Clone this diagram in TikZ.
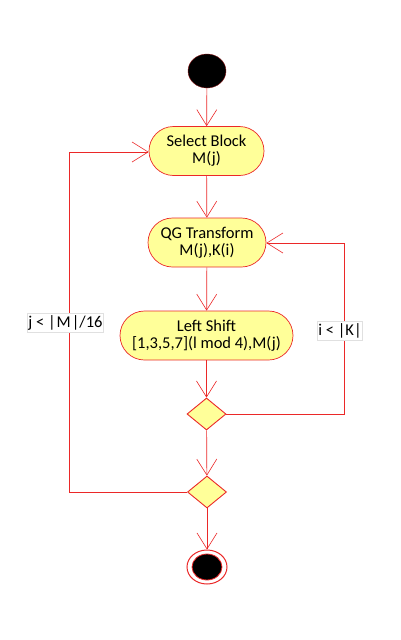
\documentclass[tikz,border=0pt]{standalone}
\usepackage{fontspec}
\setmainfont{Carlito}
\usetikzlibrary{shapes.geometric,arrows.meta}
\definecolor{lred}{RGB}{235,40,40}
\definecolor{lyel}{RGB}{255,255,153}
\tikzset{
  act/.style={draw=lred, fill=lyel, rounded corners=24.5pt, minimum height=49pt, inner sep=0pt, align=center, font=\fontsize{16.5}{17}\selectfont, line width=0.7pt},
  dec/.style={draw=lred, fill=lyel, shape=diamond, aspect=1.22, minimum width=39pt, minimum height=32pt, inner sep=0pt, line width=0.9pt},
  flow/.style={draw=lred, line width=0.7pt, -{Straight Barb[length=16pt, width=20pt, line width=0.6pt]}},
  guard/.style={fill=white, draw=black!12, line width=0.5pt, font=\fontsize{16.5}{17}\selectfont, inner xsep=1pt, inner ysep=2pt},
}
\begin{document}
\begin{tikzpicture}[x=1pt, y=-1pt]
\useasboundingbox (0,0) rectangle (400,640);
\node[ellipse, fill=black, draw=lred!60!black, minimum width=38pt, minimum height=34pt, inner sep=0pt] (start) at (207,71) {};
\node[act, minimum width=115pt] (sel) at (206.5,151) {Select Block\\M(j)};
\node[act, minimum width=118pt] (qg) at (207,242.5) {QG Transform\\M(j),K(i)};
\node[act, minimum width=173pt] (ls) at (206.5,335.5) {Left Shift\\{}[1,3,5,7](l mod 4),M(j)};
\node[dec] (d1) at (206.5,414) {};
\node[dec] (d2) at (207,492) {};
\node[ellipse, fill=white, draw=lred, line width=1pt, minimum width=40pt, minimum height=34pt, inner sep=0pt] (end) at (207,567) {};
\node[ellipse, fill=black, draw=lred, line width=0.8pt, minimum width=30pt, minimum height=26pt, inner sep=0pt] (endin) at (207,567) {};
\coordinate (r1) at (344,414);
\coordinate (r2) at (344,243);
\coordinate (l1) at (69,492);
\coordinate (l2) at (69,152);
\draw[flow] (start) -- (sel);
\draw[flow] (sel) -- (qg);
\draw[flow] (qg) -- (ls);
\draw[flow] (ls) -- (d1);
\draw[flow] (d1) -- (d2);
\draw[flow] (d2) -- (end);
\draw[flow] (d1.east) -- (r1) -- (r2) -- (qg.east |- r2);
\draw[flow] (d2.west) -- (l1) -- (l2) -- (sel.west |- l2);
\node[guard] (gi) at (340,330.5) {i < |K|};
\node[guard] (gj) at (65.5,322.5) {j < |\kern1pt M\kern1pt|/16};
\end{tikzpicture}
\end{document}
